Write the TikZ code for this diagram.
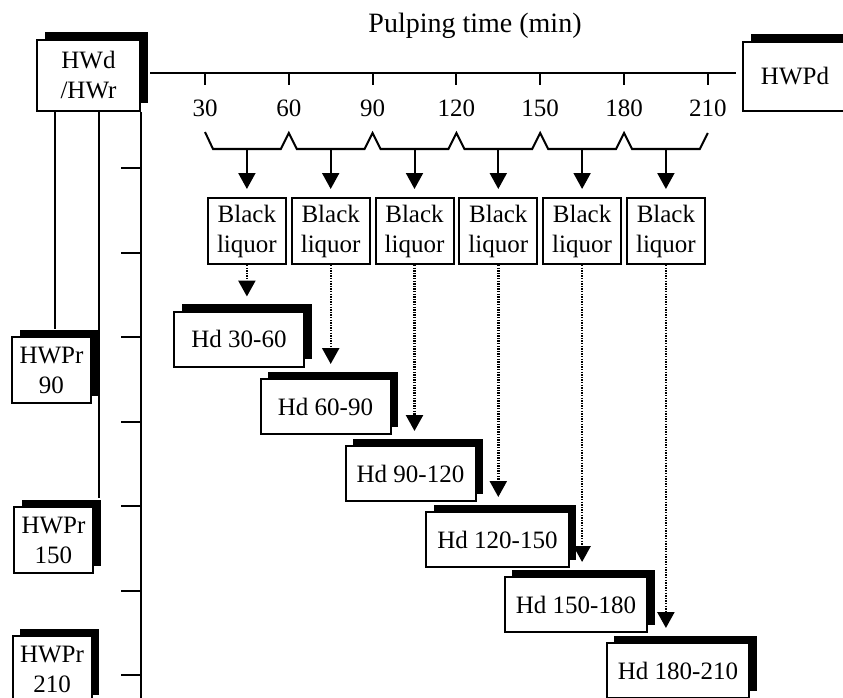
\documentclass[tikz,border=0pt]{standalone}
\usepackage{fontspec}
\setmainfont{Liberation Serif}
\usetikzlibrary{arrows.meta,shadows}

\begin{document}
\begin{tikzpicture}[x=1pt,y=-1pt,line width=2pt,
  every node/.style={font=\fontsize{25}{30}\selectfont},
  box/.style={draw,fill=white,inner sep=0pt,align=center},
  shadowbox/.style={box,general shadow={fill=black,shadow xshift=7.5pt,shadow yshift=7.5pt}},
  liquor/.style={box,minimum width=78pt,minimum height=66pt},
  hdbox/.style={shadowbox,inner xsep=11pt,minimum width=130pt,minimum height=55pt},
  prbox/.style={shadowbox,minimum width=79pt,minimum height=66pt},
  solidarrow/.style={-{Triangle[width=17pt,length=16pt]},shorten >=8pt},
  dotarrow/.style={-{Triangle[width=17pt,length=16pt]},line width=2.4pt,dash pattern=on 1.3pt off 1.3pt,shorten >=14pt}]
  \clip (0,0) rectangle (843,698);
  \node[font=\fontsize{28}{30}\selectfont] (title) at (475,26) {Pulping time (min)};
  \node[shadowbox,minimum width=103pt,minimum height=71pt] (hwd) at (88.5,75.5) {HWd\\/HWr};
  \node[shadowbox,minimum width=104pt,minimum height=69pt] (hwpd) at (795,76.5) {HWPd};
  \node[prbox] (hwpr90) at (51.5,370) {HWPr\\90};
  \node[prbox] (hwpr150) at (53.5,540) {HWPr\\150};
  \node[prbox] (hwpr210) at (52,669) {HWPr\\210};
  % time axis
  \coordinate (axis) at (0,73);
  \draw ([xshift=9pt]hwd.east |- axis) -- ([xshift=-6pt]hwpd.west |- axis);
  \foreach \t [count=\k from 0] in {30,60,...,210} {
    \draw ({205+83.8*\k},73) -- ++(0,12);
    \node (lab\t) at ({205+83.8*\k},108) {\t};
  }
  \draw (205,132) \foreach \k in {0,...,5} {
    -- ({213+83.8*\k},149) -- ({197+83.8*(\k+1)},149) -- ({205+83.8*(\k+1)},133) };
  % black liquor fractions
  \foreach \i in {1,...,6} {
    \coordinate (br\i) at ({205+83.8*(\i-0.5)},149);
    \node[liquor] (bl\i) at ({205+83.8*(\i-0.5)},231) {Black\\liquor};
    \draw[solidarrow] (br\i) -- (bl\i.north);
  }
  \foreach \x/\y/\lab [count=\i] in {239/339/30-60,325.5/406.5/60-90,410.5/473.5/90-120,
      497.5/539.5/120-150,576/604.5/150-180,678/670.5/180-210} {
    \node[hdbox] (hd\i) at (\x,\y) {Hd \lab};
    \draw[dotarrow] (bl\i.south) -- (bl\i.south |- hd\i.north);
  }
  % residue axis
  \coordinate (vend) at (0,700);
  \draw (hwd.south east) -- (hwd.south east |- vend);
  \foreach \k in {0,...,6}
    \draw ({hwd.south east} |- 0,{168+84.5*\k}) -- ++(-20,0);
  \draw ([xshift=3.5pt]hwpr90.north |- hwd.south) -- ([xshift=3.5pt,yshift=7.5pt]hwpr90.north);
  \draw ([xshift=5pt]hwpr150.north east |- hwd.south) -- ([xshift=5pt,yshift=8pt]hwpr150.north east);
\end{tikzpicture}
\end{document}
